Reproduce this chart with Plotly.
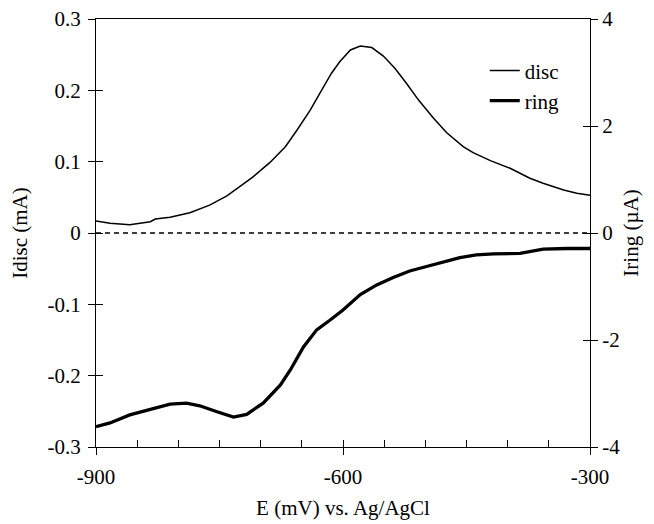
import plotly.graph_objects as go

# ---- data ----
disc_E = [-900, -883, -859, -834, -828, -810, -786, -762, -741, -731, -710, -689,
          -670, -656, -640, -628, -614, -604, -591, -579, -565, -551, -537, -523,
          -508, -490, -474, -454, -442, -421, -397, -373, -357, -332, -316, -300]
disc_mA = [0.0168, 0.0136, 0.0117, 0.0159, 0.0196, 0.0220, 0.0285, 0.0390, 0.0520,
           0.0600, 0.0780, 0.0986, 0.1210, 0.1440, 0.1720, 0.1960, 0.2240, 0.2400,
           0.2566, 0.2620, 0.2600, 0.2480, 0.2310, 0.2100, 0.1860, 0.1610, 0.1406,
           0.1210, 0.1126, 0.1014, 0.0907, 0.0767, 0.0697, 0.0603, 0.0557, 0.0528]

ring_E = [-900, -883, -859, -834, -810, -790, -774, -753, -733, -717, -697, -676,
          -664, -648, -632, -616, -600, -579, -559, -539, -519, -502, -486, -458,
          -438, -417, -385, -357, -328, -300]
ring_uA = [-3.62, -3.55, -3.40, -3.30, -3.20, -3.18, -3.23, -3.34, -3.44, -3.39,
           -3.18, -2.84, -2.56, -2.13, -1.81, -1.63, -1.44, -1.15, -0.97, -0.83,
           -0.71, -0.64, -0.57, -0.46, -0.41, -0.39, -0.38, -0.30, -0.29, -0.29]

zero_E = [-900, -300]
zero_val = [0, 0]

x_ticks = [-900, -600, -300]
x_ticktext = ["-900", "-600", "-300"]
x_minor = [-900, -850, -800, -750, -700, -650, -600, -550, -500, -450, -400, -350, -300]
y1_ticks = [-0.3, -0.2, -0.1, 0, 0.1, 0.2, 0.3]
y1_ticktext = ["-0.3", "-0.2", "-0.1", "0", "0.1", "0.2", "0.3"]
y2_ticks = [-4, -2, 0, 2, 4]
y2_ticktext = ["-4", "-2", "0", "2", "4"]

FONT = "Liberation Serif"
FS = 21

fig = go.Figure()
fig.add_trace(go.Scatter(x=zero_E, y=zero_val, mode="lines", xaxis="x", yaxis="y",
                         line=dict(color="black", width=1.5, dash="5px,4px"),
                         showlegend=False, hoverinfo="skip"))
fig.add_trace(go.Scatter(x=disc_E, y=disc_mA, mode="lines", name="disc",
                         xaxis="x", yaxis="y", legendgroup="a",
                         line=dict(color="black", width=1.5)))
fig.add_trace(go.Scatter(x=ring_E, y=ring_uA, mode="lines", name="ring",
                         xaxis="x", yaxis="y2", legendgroup="b",
                         line=dict(color="black", width=3.3)))
# invisible traces to anchor the overlay axes used for inside tick halves
fig.add_trace(go.Scatter(x=zero_E, y=zero_val, mode="lines", xaxis="x2", yaxis="y3",
                         line=dict(width=0), showlegend=False, hoverinfo="skip"))
fig.add_trace(go.Scatter(x=zero_E, y=zero_val, mode="lines", xaxis="x2", yaxis="y4",
                         line=dict(width=0), showlegend=False, hoverinfo="skip"))

tickfont = dict(family=FONT, size=FS, color="black")
common = dict(showgrid=False, zeroline=False, tickcolor="black", ticklen=7, tickwidth=1,
              automargin=False, ticklabeloverflow="allow")

# page body adds an 8px offset at top/left, so the figure is 8px smaller
fig.update_layout(
    width=646, height=516,
    margin=dict(l=88, r=64, t=11, b=77),
    paper_bgcolor="white", plot_bgcolor="white",
    font=dict(family=FONT, size=FS, color="black"),
    xaxis=dict(range=[-900, -300], tickvals=x_ticks, ticktext=x_ticktext, ticks="outside",
               showline=True, linecolor="black", linewidth=1, mirror=True,
               tickfont=tickfont, ticklabelstandoff=4,
               title=dict(text="E (mV) vs. Ag/AgCl", font=tickfont, standoff=12),
               **common),
    xaxis2=dict(range=[-900, -300], overlaying="x", anchor="y", side="bottom",
                tickvals=x_minor, ticks="inside", showticklabels=False,
                showline=False, **common),
    yaxis=dict(range=[-0.3, 0.3], tickvals=y1_ticks, ticktext=y1_ticktext, ticks="outside",
               showline=True, linecolor="black", linewidth=1,
               tickfont=tickfont, ticklabelstandoff=3,
               title=dict(text="Idisc (mA)", font=tickfont, standoff=21),
               **common),
    yaxis2=dict(range=[-4, 4], tickvals=y2_ticks, ticktext=y2_ticktext, ticks="outside",
                overlaying="y", side="right", anchor="x",
                showline=True, linecolor="black", linewidth=1,
                tickfont=tickfont,
                title=dict(text="Iring (µA)", font=tickfont, standoff=4),
                **common),
    yaxis3=dict(range=[-0.3, 0.3], tickvals=y1_ticks, ticks="inside", overlaying="y",
                side="left", anchor="x2", showticklabels=False, showline=False, **common),
    yaxis4=dict(range=[-4, 4], tickvals=y2_ticks, ticks="inside", overlaying="y",
                side="right", anchor="x2", showticklabels=False, showline=False, **common),
    legend=dict(x=0.787, y=0.927, xanchor="left", yanchor="top",
                bgcolor="rgba(0,0,0,0)", borderwidth=0,
                font=dict(family=FONT, size=FS, color="black"),
                traceorder="grouped", tracegroupgap=0),
    showlegend=True,
)

fig.write_html("out.html")
